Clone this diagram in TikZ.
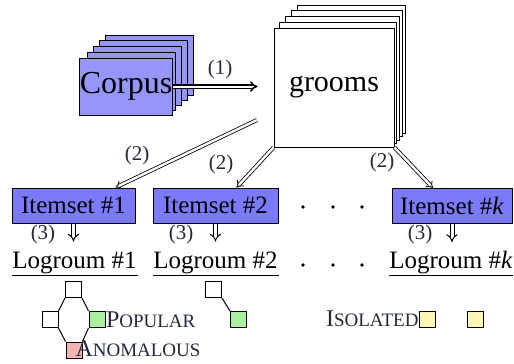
\documentclass[tikz,border=0pt]{standalone}
\usepackage{fontspec}
\setmainfont{LiberationSerif}[Extension=.ttf, UprightFont=*-Regular, ItalicFont=*-Italic, BoldFont=*-Bold]
\usepackage{tikz}
\usetikzlibrary{arrows.meta,positioning}

\definecolor{corpusblue}{RGB}{150,150,250}
\definecolor{itemblue}{RGB}{122,122,250}
\definecolor{popgreen}{RGB}{170,240,160}
\definecolor{anopink}{RGB}{240,180,180}
\definecolor{isoyellow}{RGB}{255,245,180}
\definecolor{labc}{RGB}{35,40,60}

\newcommand{\fsz}[1]{\fontsize{#1}{#1}\selectfont}
\newcommand{\fakesc}[2]{{\fsz{24}#1}{\fsz{19}#2}}

\tikzset{
  itembox/.style={draw, fill=itemblue, minimum width=123pt, minimum height=35pt, inner sep=0pt, font=\fsz{25}},
  logroum/.style={minimum width=125pt, inner sep=0pt, text depth=7pt, font=\fsz{25}, anchor=base},
  vtx/.style={draw, minimum size=16pt, inner sep=0pt},
  lab/.style={text=labc, font=\fsz{21}, inner sep=0pt},
  bigarrow/.style={double, double distance=2pt, line width=1.5pt, -{Implies[scale=1.6]}},
  thinarrow/.style={double, double distance=2.4pt, line width=.8pt, -{Implies[scale=2]}},
  downarrow/.style={double, double distance=3pt, line width=1pt, -{Implies[scale=2]}}
}

\begin{document}
\begin{tikzpicture}[x=1pt, y=-1pt, line width=1pt]
\useasboundingbox (0,0) rectangle (514,364);

% corpus stack
\foreach \i in {4,3,2,1}
  \draw[fill=corpusblue] (82+5.75*\i, 58-5.75*\i) rectangle (170+5.75*\i, 115-5*\i);
\node[draw, fill=corpusblue, minimum width=88pt, minimum height=57pt, inner sep=0pt, font=\fsz{32}] (corpus) at (126,86.5) {Corpus};

% grooms stack
\foreach \i in {4,3,2,1}
  \draw[fill=white] (274+5.75*\i, 28-5.75*\i) rectangle (394+2.75*\i, 147-3.5*\i);
\node[draw, fill=white, minimum width=120pt, minimum height=119pt, inner sep=0pt, font=\fsz{30}] (grooms) at (334,87.5) {grooms};

\draw[bigarrow] (corpus.east) -- ([xshift=-16pt]corpus.east -| grooms.west);
\node[lab] (l1) at (220,69) {(1)};

% itemsets
\node[itembox] (it1) at (73.5,205.5) {Itemset \#1};
\node[itembox, minimum width=125pt] (it2) at (215.5,205.5) {Itemset \#2};
\node[itembox, minimum width=120pt] (itk) at (452,206) {Itemset \#\textit{k}};

\coordinate (gsplit) at (257,120);
\draw[thinarrow] (gsplit) -- ([xshift=-20pt]it1.north east);
\draw[thinarrow] (grooms.south west) -- ([xshift=21pt]it2.north);
\draw[thinarrow] (grooms.south east) -- ([xshift=-19pt]itk.north);
\node[lab] (l2a) at (137,155) {(2)};
\node[lab] (l2b) at (221,164) {(2)};
\node[lab] (l2c) at (382,162) {(2)};

% logrooms
\foreach \n in {1,2,k}
  \draw[downarrow] (it\n.south) -- ++(0,18);
\node[lab] (l3a) at (43,234) {(3)};
\node[lab] (l3b) at (181,234) {(3)};
\node[lab] (l3c) at (420,234) {(3)};

\node[logroum] (lg1) at (74.5,268) {Logroum \#1};
\node[logroum] (lg2) at (215.5,268) {Logroum \#2};
\node[logroum, minimum width=122pt] (lgk) at (451,268) {Logroum \#\textit{k}};
\foreach \n in {1,2,k}
  \draw (lg\n.south west) -- (lg\n.south east);

\foreach \x in {303,333,362} {
  \fill (\x,207) circle (1.8pt);
  \fill (\x,265) circle (1.8pt);
}

% groom graphs
\node[vtx] (pt) at (73.5,289.5) {};
\node[vtx] (pl) at (50,319.5) {};
\node[vtx, fill=popgreen] (pr) at (97,319.5) {};
\node[vtx, fill=anopink] (pb) at (74,350) {};
\draw (pt.south west) -- (pl.north east);
\draw (pl.south east) -- (pb.north west);
\draw (pt.south east) -- (pr.north west);
\draw (pr.south west) -- (pb.north east);
\node[lab, right=0pt of pr] (popular) {\fakesc{P}{OPULAR}};
\node[lab, anchor=west] (anomalous) at (75,349) {\fakesc{A}{NOMALOUS}};

\node[vtx] (qt) at (213.5,289.5) {};
\node[vtx, fill=popgreen] (qr) at (238.5,319.5) {};
\draw (qt.south east) -- (qr.north west);

\node[vtx, fill=isoyellow] (iso1) at (427.5,319) {};
\node[vtx, fill=isoyellow] (iso2) at (475.5,319) {};
\node[lab, left=0pt of iso1] (isolated) {\fakesc{I}{SOLATED}};

\end{tikzpicture}
\end{document}
